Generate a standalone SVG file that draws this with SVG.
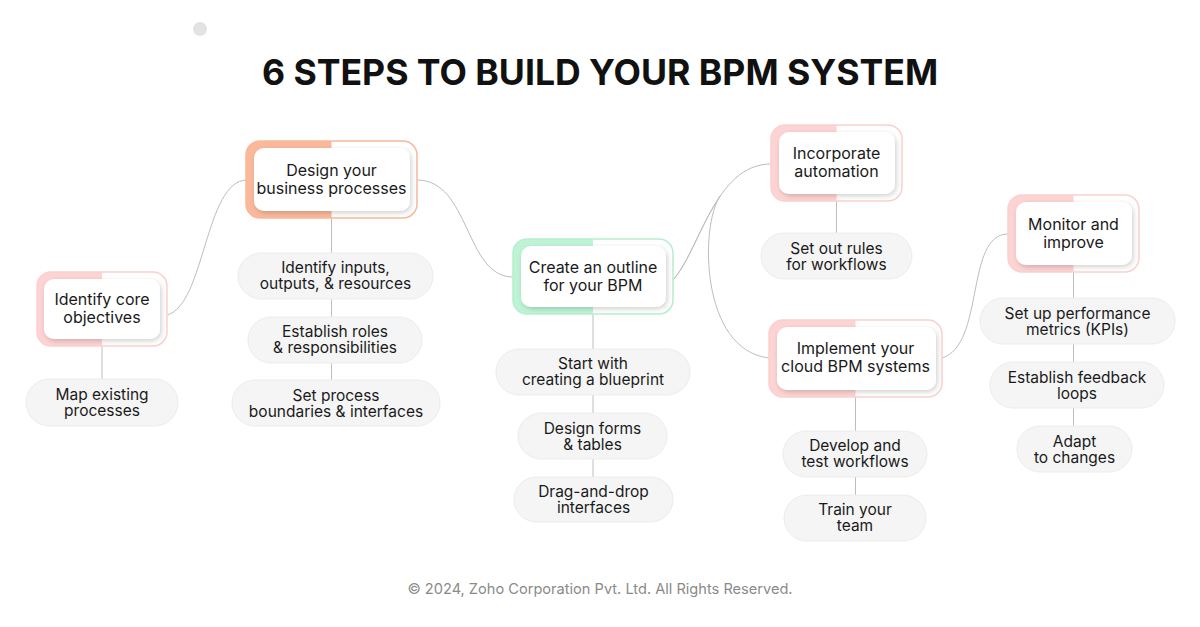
<svg xmlns="http://www.w3.org/2000/svg" width="1200" height="627" viewBox="0 0 1200 627">
<defs>
<style>
.t{font-family:Inter,"Noto Sans",sans-serif;fill:#1a1a1a;text-anchor:middle}
.m{font-size:16px}
.p{font-size:15.5px}
.pill{fill:#f5f5f5;stroke:#ececec;stroke-width:1}
.card{fill:#fff;filter:url(#sh)}
.conn{fill:none;stroke:#bdbdbd;stroke-width:1}
.pink .hf{fill:#fdd3d3}.pink .ol{stroke:#fcd0d0}
.sal .hf{fill:#fbb99b}.sal .ol{stroke:#f9b89b}
.grn .hf{fill:#bff3d6}.grn .ol{stroke:#b5efcf}
.ol{fill:none;stroke-width:1.5}
</style>
<filter id="sh" x="-20%" y="-30%" width="140%" height="160%">
<feDropShadow dx="1.5" dy="2" stdDeviation="2.5" flood-color="#000" flood-opacity="0.18"/>
</filter>
</defs>
<rect width="1200" height="627" fill="#fff"/>
<circle cx="200" cy="29" r="7" fill="#e3e3e3"/>
<text x="600" y="85" font-family="Inter,'Noto Sans',sans-serif" font-size="35.6" font-weight="700" fill="#111" text-anchor="middle">6 STEPS TO BUILD YOUR BPM SYSTEM</text>

<g id="connectors">
<path class="conn" d="M167,315 C205,305 205,180 247,180"/>
<path class="conn" d="M417,180 C470,180 465,277 513,277"/>
<path class="conn" d="M673,280 C700,250 715,164 771,164"/>
<path class="conn" d="M673,280 C689.2,262 701.1,223.8 720.1,196.2 C700,225 700,350 769,358"/>
<path class="conn" d="M942,358 C985,345 965,234 1008,234"/>
<line class="conn" x1="102" y1="346" x2="102" y2="379"/>
<line class="conn" x1="331.5" y1="218" x2="331.5" y2="380"/>
<line class="conn" x1="593" y1="314" x2="593" y2="477"/>
<line class="conn" x1="836.5" y1="201" x2="836.5" y2="233"/>
<line class="conn" x1="855.5" y1="397" x2="855.5" y2="495"/>
<line class="conn" x1="1073.5" y1="272" x2="1073.5" y2="426"/>
</g>

<g id="n1" class="pink">
<path class="hf" d="M102,272 H51 A14,14 0 0 0 37,286 V332 A14,14 0 0 0 51,346 H102 Z"/>
<rect class="ol" x="37" y="272" width="130" height="74" rx="14"/>
<rect class="card" x="44" y="279" width="116" height="60" rx="10"/>
<text class="t m" x="102" y="305">Identify core</text>
<text class="t m" x="102" y="323">objectives</text>
</g>
<g id="n1a"><rect class="pill" x="26" y="379" width="152" height="47" rx="23.5"/>
<text class="t p" x="102" y="400">Map existing</text><text class="t p" x="102" y="416">processes</text></g>

<g id="n2" class="sal">
<path class="hf" d="M331.5,141 H260 A14,14 0 0 0 246,155 V204 A14,14 0 0 0 260,218 H331.5 Z"/>
<rect class="ol" x="246" y="141" width="171" height="77" rx="14"/>
<rect class="card" x="254" y="148" width="156" height="63" rx="10"/>
<text class="t m" x="331.5" y="176">Design your</text>
<text class="t m" x="331.5" y="194">business processes</text>
</g>
<g id="n2a"><rect class="pill" x="238" y="253" width="195" height="46" rx="23"/>
<text class="t p" x="335.5" y="273">Identify inputs,</text><text class="t p" x="335.5" y="289">outputs, &amp; resources</text></g>
<g id="n2b"><rect class="pill" x="248" y="317" width="174" height="46" rx="23"/>
<text class="t p" x="335" y="337">Establish roles</text><text class="t p" x="335" y="353">&amp; responsibilities</text></g>
<g id="n2c"><rect class="pill" x="232" y="380" width="208" height="46" rx="23"/>
<text class="t p" x="336" y="401">Set process</text><text class="t p" x="336" y="417">boundaries &amp; interfaces</text></g>

<g id="n3" class="grn">
<path class="hf" d="M593,239 H527 A14,14 0 0 0 513,253 V300 A14,14 0 0 0 527,314 H593 Z"/>
<rect class="ol" x="513" y="239" width="160" height="75" rx="14"/>
<rect class="card" x="521" y="246" width="145" height="61" rx="10"/>
<text class="t m" x="593" y="273">Create an outline</text>
<text class="t m" x="593" y="291">for your BPM</text>
</g>
<g id="n3a"><rect class="pill" x="496" y="349" width="194" height="46" rx="23"/>
<text class="t p" x="593" y="369">Start with</text><text class="t p" x="593" y="385">creating a blueprint</text></g>
<g id="n3b"><rect class="pill" x="518" y="413" width="149" height="46" rx="23"/>
<text class="t p" x="592.5" y="434">Design forms</text><text class="t p" x="592.5" y="450">&amp; tables</text></g>
<g id="n3c"><rect class="pill" x="514" y="477" width="159" height="45" rx="22.5"/>
<text class="t p" x="593.5" y="497">Drag-and-drop</text><text class="t p" x="593.5" y="513">interfaces</text></g>

<g id="n4" class="pink">
<path class="hf" d="M836.5,125 H785 A14,14 0 0 0 771,139 V187 A14,14 0 0 0 785,201 H836.5 Z"/>
<rect class="ol" x="771" y="125" width="131" height="76" rx="14"/>
<rect class="card" x="779" y="132" width="116" height="62" rx="10"/>
<text class="t m" x="836.5" y="159">Incorporate</text>
<text class="t m" x="836.5" y="177">automation</text>
</g>
<g id="n4a"><rect class="pill" x="761" y="233" width="151" height="46" rx="23"/>
<text class="t p" x="836.5" y="254">Set out rules</text><text class="t p" x="836.5" y="270">for workflows</text></g>

<g id="n5" class="pink">
<path class="hf" d="M855.5,320 H783 A14,14 0 0 0 769,334 V383 A14,14 0 0 0 783,397 H855.5 Z"/>
<rect class="ol" x="769" y="320" width="173" height="77" rx="14"/>
<rect class="card" x="777" y="327" width="159" height="63" rx="10"/>
<text class="t m" x="855.5" y="354">Implement your</text>
<text class="t m" x="855.5" y="372">cloud BPM systems</text>
</g>
<g id="n5a"><rect class="pill" x="783" y="431" width="144" height="46" rx="23"/>
<text class="t p" x="855" y="451">Develop and</text><text class="t p" x="855" y="467">test workflows</text></g>
<g id="n5b"><rect class="pill" x="784" y="495" width="142" height="46" rx="23"/>
<text class="t p" x="855" y="515">Train your</text><text class="t p" x="855" y="531">team</text></g>

<g id="n6" class="pink">
<path class="hf" d="M1073.5,195 H1022 A14,14 0 0 0 1008,209 V258 A14,14 0 0 0 1022,272 H1073.5 Z"/>
<rect class="ol" x="1008" y="195" width="131" height="77" rx="14"/>
<rect class="card" x="1016" y="202" width="116" height="63" rx="10"/>
<text class="t m" x="1073.5" y="230">Monitor and</text>
<text class="t m" x="1073.5" y="248">improve</text>
</g>
<g id="n6a"><rect class="pill" x="980" y="298" width="195" height="46" rx="23"/>
<text class="t p" x="1077.5" y="319">Set up performance</text><text class="t p" x="1077.5" y="335">metrics (KPIs)</text></g>
<g id="n6b"><rect class="pill" x="990" y="362" width="174" height="46" rx="23"/>
<text class="t p" x="1077" y="383">Establish feedback</text><text class="t p" x="1077" y="399">loops</text></g>
<g id="n6c"><rect class="pill" x="1017" y="426" width="115" height="46" rx="23"/>
<text class="t p" x="1074.5" y="447">Adapt</text><text class="t p" x="1074.5" y="463">to changes</text></g>

<text x="600" y="594" font-family="Inter,'Noto Sans',sans-serif" font-size="14.6" fill="#8a8a8a" text-anchor="middle">© 2024, Zoho Corporation Pvt. Ltd. All Rights Reserved.</text>
</svg>
